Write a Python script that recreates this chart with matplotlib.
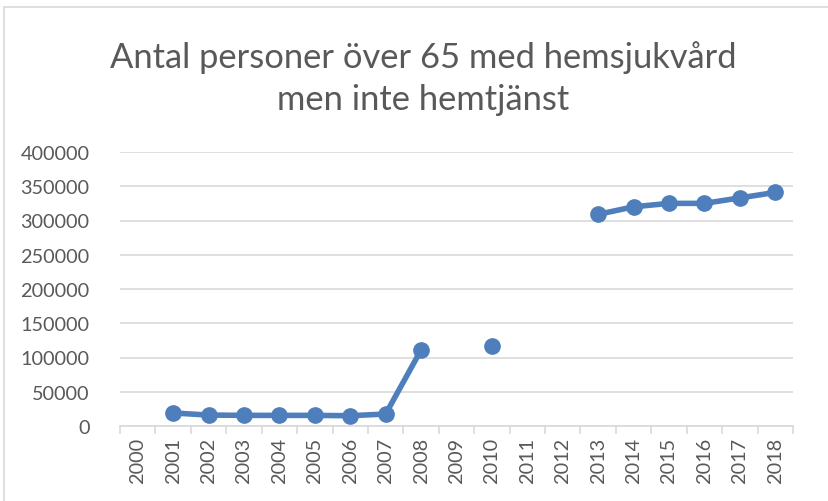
import numpy as np
import matplotlib.pyplot as plt
from matplotlib.patches import Rectangle

# ----------------------------
# Data
# ----------------------------
years = ['2000', '2001', '2002', '2003', '2004', '2005', '2006', '2007', '2008', '2009',
         '2010', '2011', '2012', '2013', '2014', '2015', '2016', '2017', '2018']
persons = [np.nan, 19000, 16000, 15500, 15500, 15500, 15000, 17500, 111000, np.nan,
           117000, np.nan, np.nan, 309000, 320000, 325000, 325000, 333000, 341000]

title_lines = ['Antal personer över 65 med hemsjukvård', 'men inte hemtjänst']

BLUE = '#4E7FBC'
GREY_TXT = '#595959'
GRID = '#D9D9D9'

plt.rcParams['font.family'] = ['Lato', 'DejaVu Sans']

fig = plt.figure(figsize=(8.29, 5.02), dpi=100)

# chart border
fig.patches.append(Rectangle((4 / 829, -0.01), 1.0, 1 - 8 / 502 + 0.01, transform=fig.transFigure,
                             fill=False, edgecolor='#D9D9D9', linewidth=1.2))

ax = fig.add_axes([120 / 829, 1 - 427 / 502, (793 - 120) / 829, (427 - 153) / 502])

x = np.arange(len(years))
y = np.array(persons, dtype=float)
ax.plot(x, y, color=BLUE, linewidth=4, marker='o', markersize=11, solid_capstyle='round')

ax.set_xlim(-0.5, len(years) - 0.5)
ax.set_ylim(0, 400000)
ax.set_yticks(np.arange(0, 400001, 50000))
ax.set_yticklabels([str(v) for v in range(0, 400001, 50000)], fontsize=14.3, color=GREY_TXT)
ax.yaxis.grid(True, color=GRID, linewidth=1.2)
ax.set_axisbelow(True)
ax.tick_params(axis='y', length=0, pad=22)

ax.set_xticks(x)
ax.set_xticklabels(years, rotation=90, fontsize=14.3, color=GREY_TXT)
ax.tick_params(axis='x', length=0, pad=8)
ax.set_xticks(np.arange(-0.5, len(years), 1), minor=True)
ax.tick_params(axis='x', which='minor', length=6, color=GRID, width=1.2)

for s in ['top', 'right', 'left']:
    ax.spines[s].set_visible(False)
ax.spines['bottom'].set_color(GRID)
ax.spines['bottom'].set_linewidth(1.2)

for i, line in enumerate(title_lines):
    fig.text(0.511, 1 - (68 + 42 * i) / 502, line, ha='center', va='baseline',
             fontsize=24.8, color=GREY_TXT)

plt.savefig('out.png', dpi=100)
